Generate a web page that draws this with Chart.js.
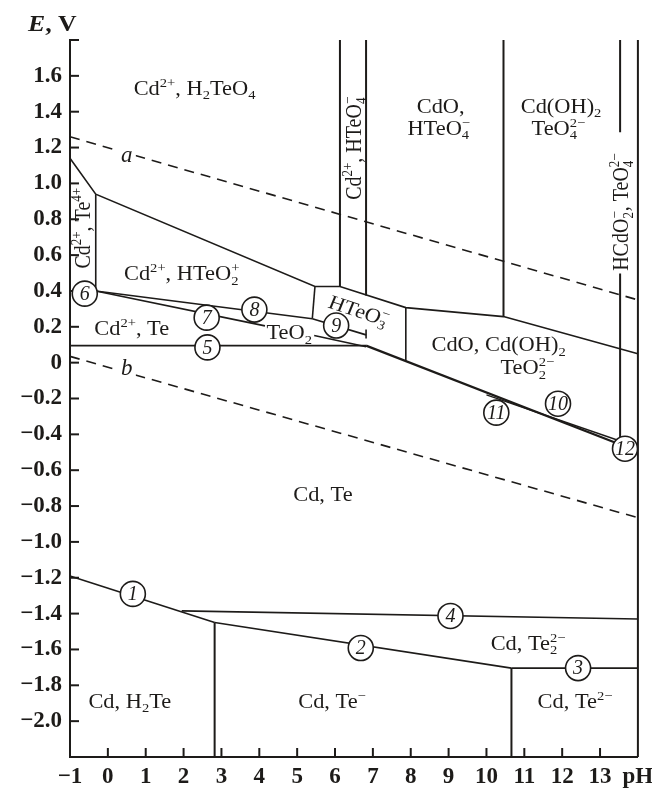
<!DOCTYPE html>
<html>
<head>
<meta charset="utf-8">
<script src="https://cdn.jsdelivr.net/npm/chart.js@4.4.0/dist/chart.umd.min.js"></script>
<style>
html, body { margin: 0; padding: 0; background: #fff; }
canvas { display: block; }
</style>
</head>
<body>
<canvas id="pourbaix" width="652" height="788"></canvas>
<script>
// Cd–Te–H2O diagram: boundary lines as [pH, E] pairs
const lineA = [[-1, 1.26], [14, 0.35]];
const lineB = [[-1, 0.035], [14, -0.865]];
const upperEdge = [[-1, 1.14], [-0.32, 0.94], [5.47, 0.425], [6.13, 0.425], [7.87, 0.307], [10.45, 0.257], [14, 0.05]];
const te4Edge = [[-0.32, 0.94], [-0.32, 0.40]];
const line8 = [[-0.32, 0.40], [5.4, 0.245]];
const line7a = [[-0.32, 0.40], [4.15, 0.205]];
const line7b = [[5.45, 0.151], [6.82, 0.089]];
const line9 = [[5.4, 0.245], [6.82, 0.155]];
const line9end = [[6.82, 0.185], [6.82, 0.135]];
const boxLeft = [[5.47, 0.425], [5.4, 0.245]];
const boxRight = [[7.87, 0.307], [7.87, 0.01]];
const line5 = [[-1, 0.095], [6.82, 0.095]];
const line11 = [[6.82, 0.095], [13.53, -0.457]];
const line10 = [[10.0, -0.18], [13.53, -0.437]];
const vert6 = [[6.13, 1.8], [6.13, 0.425]];
const vert7 = [[6.82, 1.8], [6.82, 0.374]];
const vert10 = [[10.45, 1.8], [10.45, 0.257]];
const vert13a = [[13.53, 1.8], [13.53, 1.285]];
const vert13b = [[13.53, 0.497], [13.53, -0.45]];
const rightEdge = [[14, 1.8], [14, -2.2]];
const line1 = [[-1, -1.19], [2.82, -1.45]];
const line2 = [[2.82, -1.45], [10.66, -1.704]];
const line3 = [[10.66, -1.704], [14, -1.704]];
const line4 = [[1.95, -1.385], [14, -1.43]];
const vert3 = [[2.82, -1.45], [2.82, -2.2]];
const vert11 = [[10.66, -1.704], [10.66, -2.2]];

// numbered reaction markers
const markerNum = ['1', '2', '3', '4', '5', '6', '7', '8', '9', '10', '11', '12'];
const markerPH = [0.66, 6.68, 12.42, 9.05, 2.63, -0.61, 2.61, 3.87, 6.03, 11.89, 10.26, 13.66];
const markerE = [-1.29, -1.592, -1.704, -1.413, 0.085, 0.385, 0.251, 0.296, 0.207, -0.229, -0.279, -0.48];

// region labels (_{} subscript, ^{} superscript)
const regionText = ['Cd^{2+}, H_{2}TeO_{4}', 'CdO,', 'HTeO_{4}^{−}', 'Cd(OH)_{2}', 'TeO_{4}^{2−}',
  'Cd^{2+}, HTeO_{2}^{+}', 'Cd^{2+}, Te', 'TeO_{2}', 'HTeO_{3}^{−}', 'CdO, Cd(OH)_{2}', 'TeO_{2}^{2−}',
  'Cd, Te', 'Cd, Te_{2}^{2−}', 'Cd, H_{2}Te', 'Cd, Te^{−}', 'Cd, Te^{2−}',
  'Cd^{2+}, Te^{4+}', 'Cd^{2+}, HTeO_{4}^{−}', 'HCdO_{2}^{−}, TeO_{4}^{2−}'];
const regionPH = [2.29, 8.79, 8.74, 11.97, 11.9, 1.95, 0.63, 4.79, 6.63, 10.32, 11.08, 5.68, 11.1, 0.58, 5.92, 12.34, -0.66, 6.5, 13.55];
const regionE = [1.53, 1.43, 1.307, 1.43, 1.307, 0.497, 0.19, 0.168, 0.29, 0.10, -0.028, -0.737, -1.564, -1.888, -1.888, -1.888, 0.75, 1.196, 0.84];
const regionAngle = [0, 0, 0, 0, 0, 0, 0, 0, 20, 0, 0, 0, 0, 0, 0, 0, -90, -90, -90];

// water lines labels
const waterText = ['a', 'b'];
const waterPH = [0.5, 0.5];
const waterE = [1.155, -0.035];

const yTickText = ['', '−2.0', '−1.8', '−1.6', '−1.4', '−1.2', '−1.0', '−0.8', '−0.6', '−0.4', '−0.2',
  '0', '0.2', '0.4', '0.6', '0.8', '1.0', '1.2', '1.4', '1.6', ''];
const xTickText = ['−1', '0', '1', '2', '3', '4', '5', '6', '7', '8', '9', '10', '11', '12', '13', 'pH'];

const INK = '#1d1b19';
const SERIF = '"Liberation Serif", "Times New Roman", serif';
const STRETCH = 1.12;

const toXY = pts => pts.map(p => ({ x: p[0], y: p[1] }));

function seg(pts, width, dash) {
    return {
        data: toXY(pts),
        showLine: true,
        borderColor: INK,
        borderWidth: width || 1.6,
        borderDash: dash || [],
        pointRadius: 0,
        fill: false,
        order: 1,
        clip: false
    };
}

function parseRich(str) {
    const parts = [];
    const re = /([_^])\{([^}]*)\}|([^_^]+)/g;
    let m;
    while ((m = re.exec(str))) {
        if (m[3]) { parts.push({ text: m[3] }); continue; }
        const key = m[1] === '_' ? 'sub' : 'sup';
        const prev = parts[parts.length - 1];
        if (prev && prev.script && prev[key] === undefined) prev[key] = m[2];
        else parts.push({ script: true, [key]: m[2] });
    }
    return parts;
}

function drawRich(ctx, str, x, y, size, angle) {
    const parts = parseRich(str);
    const base = size + 'px ' + SERIF;
    const small = Math.round(size * 0.64) + 'px ' + SERIF;
    let w = 0;
    parts.forEach(p => {
        if (p.script) {
            ctx.font = small;
            p.w = Math.max(p.sub ? ctx.measureText(p.sub).width : 0, p.sup ? ctx.measureText(p.sup).width : 0);
        } else {
            ctx.font = base;
            p.w = ctx.measureText(p.text).width;
        }
        w += p.w;
    });
    ctx.save();
    ctx.translate(x, y);
    ctx.scale(STRETCH, 1);
    ctx.rotate(angle * Math.PI / 180);
    ctx.textAlign = 'left';
    ctx.textBaseline = 'alphabetic';
    let cx = -w / 2;
    const by = size * 0.33;
    parts.forEach(p => {
        if (p.script) {
            ctx.font = small;
            if (p.sup) ctx.fillText(p.sup, cx, by - size * 0.4);
            if (p.sub) ctx.fillText(p.sub, cx, by + size * 0.22);
        } else {
            ctx.font = base;
            ctx.fillText(p.text, cx, by);
        }
        cx += p.w;
    });
    ctx.restore();
}

const diagramText = {
    id: 'diagramText',
    beforeDatasetsDraw(chart) {
        const { ctx, chartArea, scales: { x, y } } = chart;
        ctx.save();
        ctx.strokeStyle = INK;
        ctx.lineWidth = 2;
        y.ticks.forEach(t => {
            if (t.value < -2.19) return;
            const py = y.getPixelForValue(t.value);
            ctx.beginPath();
            ctx.moveTo(chartArea.left, py);
            ctx.lineTo(chartArea.left + 9, py);
            ctx.stroke();
        });
        x.ticks.forEach(t => {
            if (t.value <= -1 || t.value >= 14) return;
            const px = x.getPixelForValue(t.value);
            ctx.beginPath();
            ctx.moveTo(px, chartArea.bottom);
            ctx.lineTo(px, chartArea.bottom - 9);
            ctx.stroke();
        });
        ctx.restore();
    },
    afterDatasetsDraw(chart) {
        const { ctx, scales: { x, y } } = chart;
        ctx.save();
        ctx.fillStyle = INK;

        // numbers inside the circles
        const meta = chart.getDatasetMeta(0);
        ctx.font = 'italic 20px ' + SERIF;
        ctx.textAlign = 'center';
        ctx.textBaseline = 'middle';
        meta.data.forEach((pt, i) => {
            ctx.fillText(markerNum[i], pt.x, pt.y + 1);
        });

        // a / b labels on the dashed water lines
        waterText.forEach((t, i) => {
            const px = x.getPixelForValue(waterPH[i]);
            const py = y.getPixelForValue(waterE[i]);
            ctx.fillStyle = '#fff';
            ctx.fillRect(px - 9, py - 10, 18, 20);
            ctx.fillStyle = INK;
            ctx.font = 'italic 23px ' + SERIF;
            ctx.fillText(t, px, py);
        });

        regionText.forEach((t, i) => {
            drawRich(ctx, t, x.getPixelForValue(regionPH[i]), y.getPixelForValue(regionE[i]), 20, regionAngle[i]);
        });

        // axis title
        ctx.textAlign = 'left';
        ctx.textBaseline = 'alphabetic';
        ctx.save();
        ctx.translate(28, 31);
        ctx.scale(STRETCH, 1);
        ctx.font = 'italic bold 23px ' + SERIF;
        ctx.fillText('E', 0, 0);
        const ew = ctx.measureText('E').width;
        ctx.font = 'bold 23px ' + SERIF;
        ctx.fillText(', V', ew, 0);
        ctx.restore();
        ctx.restore();
    }
};

const datasets = [
    {
        data: markerPH.map((v, i) => ({ x: v, y: markerE[i] })),
        showLine: false,
        pointRadius: 12.5,
        pointBackgroundColor: '#fff',
        pointBorderColor: INK,
        pointBorderWidth: 1.6,
        order: 0,
        clip: false
    },
    seg(lineA, 1.6, [10, 7]),
    seg(lineB, 1.6, [10, 7]),
    seg(upperEdge), seg(te4Edge), seg(line8), seg(line7a), seg(line7b),
    seg(line9), seg(line9end), seg(boxLeft), seg(boxRight), seg(line5),
    seg(line11, 2.2), seg(line10, 1.4),
    seg(vert6, 2), seg(vert7, 2), seg(vert10, 2), seg(vert13a, 2), seg(vert13b, 2), seg(rightEdge, 2),
    seg(line1), seg(line2), seg(line3), seg(line4), seg(vert3, 2), seg(vert11, 2)
];

new Chart(document.getElementById('pourbaix').getContext('2d'), {
    type: 'scatter',
    data: { datasets: datasets },
    options: {
        responsive: false,
        animation: false,
        events: [],
        devicePixelRatio: 1,
        layout: { padding: { left: 0, right: 12, top: 40, bottom: 0 } },
        plugins: { legend: { display: false }, tooltip: { enabled: false } },
        scales: {
            x: {
                type: 'linear',
                min: -1,
                max: 14,
                grid: { display: false, drawTicks: false },
                border: { display: true, color: INK, width: 2 },
                ticks: {
                    stepSize: 1,
                    autoSkip: false,
                    maxRotation: 0,
                    padding: 6,
                    color: INK,
                    font: { family: SERIF, size: 23, weight: 'bold' },
                    callback: (value, index) => xTickText[index]
                },
                afterFit: scale => { scale.height = 31; scale.paddingLeft = 0; scale.paddingRight = 0; }
            },
            y: {
                type: 'linear',
                min: -2.2,
                max: 1.8,
                grid: { display: false, drawTicks: false },
                border: { display: true, color: INK, width: 2 },
                ticks: {
                    stepSize: 0.2,
                    autoSkip: false,
                    padding: 8,
                    color: INK,
                    font: { family: SERIF, size: 23, weight: 'bold' },
                    callback: value => yTickText[Math.round((value + 2.2) / 0.2)]
                },
                afterFit: scale => { scale.width = 70; scale.paddingTop = 0; scale.paddingBottom = 0; }
            }
        }
    },
    plugins: [diagramText]
});
</script>
</body>
</html>
